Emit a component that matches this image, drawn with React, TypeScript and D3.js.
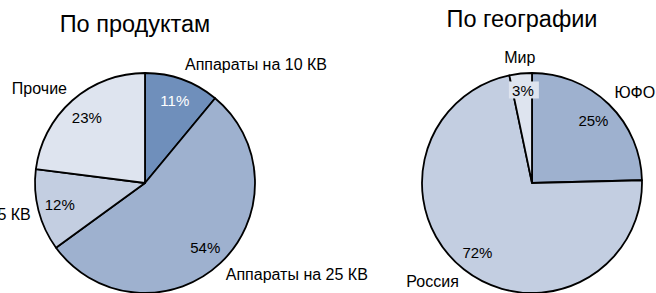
import React from "react";
import * as d3 from "d3";

const productNames = ["Аппараты на 10 КВ", "Аппараты на 25 КВ", "Аппараты на 35 КВ", "Прочие"];
const productValues = [11, 54, 12, 23];
const productColors = ["#6F8FBB", "#9EB1CF", "#C3CEE1", "#DEE4EF"];
const productPctColors = ["#ffffff", "#000000", "#000000", "#000000"];

const geoNames = ["ЮФО", "Россия", "Мир"];
const geoValues = [24.6, 72.1, 3.3];
const geoColors = ["#9EB1CF", "#C3CEE1", "#DEE4EF"];
const geoPctColors = ["#000000", "#000000", "#000000"];

const titles = ["По продуктам", "По географии"];

const W = 656;
const H = 293;
const R = 110;
const FONT = "'Liberation Sans', Arial, sans-serif";

type PieProps = {
  cx: number;
  cy: number;
  names: string[];
  values: number[];
  colors: string[];
  pctColors: string[];
};

function Pie({ cx, cy, names, values, colors, pctColors }: PieProps) {
  const total = d3.sum(values);
  const pie = d3.pie<number>().sort(null).value((d) => d);
  const arcs = pie(values);
  const arc = d3.arc<d3.PieArcDatum<number>>().innerRadius(0).outerRadius(R);
  const fmt = d3.format(".0%");
  return (
    <g transform={`translate(${cx},${cy})`}>
      {arcs.map((a, i) => (
        <path key={i} d={arc(a) || ""} fill={colors[i]} stroke="#000" strokeWidth={1.8} strokeLinejoin="round" />
      ))}
      {arcs.map((a, i) => {
        const mid = (a.startAngle + a.endAngle) / 2;
        const s = Math.sin(mid);
        const c = -Math.cos(mid);
        const pr = R * 0.8;
        const px = s * pr;
        const py = c * pr;
        const small = a.value / total < 0.05;
        const lx = s * (R + 8);
        const ly = c * (R + 16);
        const anchor = Math.abs(s) < 0.2 ? "middle" : s > 0 ? "start" : "end";
        return (
          <g key={"l" + i}>
            {small && (
              <rect x={px - 14} y={py - 14} width={30} height={17} fill={colors[i]} />
            )}
            <text
              x={px}
              y={small ? py - 5 : py}
              textAnchor="middle"
              dominantBaseline="central"
              fontSize={15}
              fontFamily={FONT}
              fill={pctColors[i]}
            >
              {fmt(a.value / total)}
            </text>
            <text
              x={lx}
              y={ly}
              textAnchor={anchor}
              dominantBaseline="central"
              fontSize={16}
              fontFamily={FONT}
              fill="#000"
            >
              {names[i]}
            </text>
          </g>
        );
      })}
    </g>
  );
}

export default function App() {
  return (
    <svg
      width={W}
      height={H}
      style={{ position: "absolute", left: 0, top: 0, background: "#fff", overflow: "hidden" }}
    >
      <rect x={0} y={0} width={W} height={H} fill="#fff" />
      <text x={135} y={32} textAnchor="middle" fontSize={23.5} fontFamily={FONT} fill="#000">
        {titles[0]}
      </text>
      <text x={522} y={27} textAnchor="middle" fontSize={23.5} fontFamily={FONT} fill="#000">
        {titles[1]}
      </text>
      <Pie cx={145} cy={183} names={productNames} values={productValues} colors={productColors} pctColors={productPctColors} />
      <Pie cx={532} cy={183} names={geoNames} values={geoValues} colors={geoColors} pctColors={geoPctColors} />
    </svg>
  );
}
